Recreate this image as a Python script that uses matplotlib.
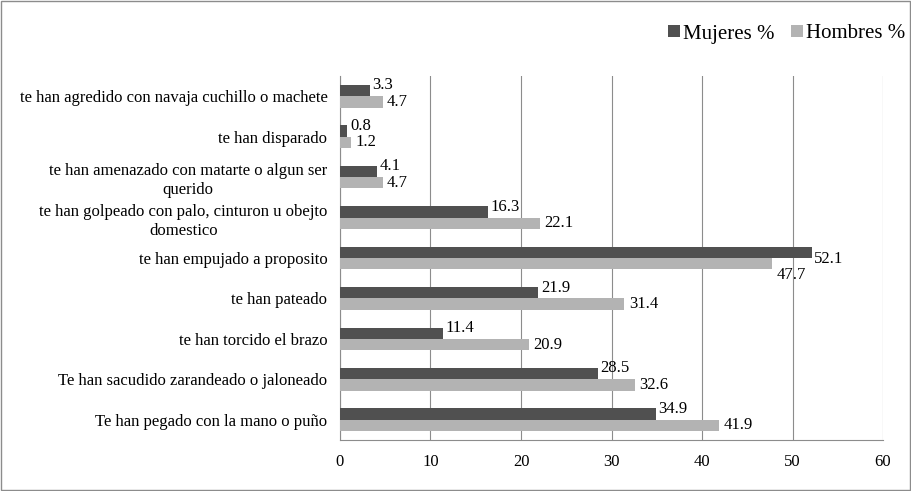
import numpy as np
import matplotlib
matplotlib.use("Agg")
import matplotlib.pyplot as plt
from matplotlib.patches import Rectangle

#%% datos
categorias = ["te han agredido con navaja cuchillo o machete",
              "te han disparado",
              "te han amenazado con matarte o algun ser\nquerido",
              "te han golpeado con palo, cinturon u obejto\ndomestico",
              "te han empujado a proposito",
              "te han pateado",
              "te han torcido el brazo",
              "Te han sacudido zarandeado o jaloneado",
              "Te han pegado con la mano o puño"]
mujeres = [3.3, 0.8, 4.1, 16.3, 52.1, 21.9, 11.4, 28.5, 34.9]
hombres = [4.7, 1.2, 4.7, 22.1, 47.7, 31.4, 20.9, 32.6, 41.9]
ticks_x = [0, 10, 20, 30, 40, 50, 60]

#%% figura
plt.rcParams['font.family'] = ['Liberation Serif', 'DejaVu Serif']
col_m = '#505050'
col_h = '#b3b3b3'
gris = '#8c8c8c'
fs = 12

fig = plt.figure(figsize=(9.12, 4.91), dpi=100)
ax = fig.add_axes([340/912, 1-440/491, (883-340)/912, (440-76)/491])

y = np.arange(len(categorias))
h = 0.28
ax.barh(y - h/2, mujeres, height=h, color=col_m, label='Mujeres %', zorder=3)
ax.barh(y + h/2, hombres, height=h, color=col_h, label='Hombres %', zorder=3)

# etiquetas de valores (como excel, se corren si chocan)
for i in range(len(categorias)):
    if mujeres[i] > hombres[i]:
        ym, yh = y[i] + 0.02, y[i] + h/2 + 0.27
    else:
        ym, yh = y[i] - h/2 - 0.13, y[i] + h/2
    ax.text(mujeres[i] + 0.3, ym, f"{mujeres[i]:.1f}", fontsize=fs,
            va='center', ha='left', zorder=4)
    ax.text(hombres[i] + 0.5, yh, f"{hombres[i]:.1f}", fontsize=fs,
            va='center', ha='left', zorder=4)

ax.set_xlim(0, 60)
ax.set_ylim(len(categorias) - 0.5, -0.5)
ax.set_xticks(ticks_x)
ax.set_xticklabels([str(t) for t in ticks_x], fontsize=fs)
ax.set_yticks(y)
ax.set_yticklabels(categorias, fontsize=fs, linespacing=1.25, multialignment='center')
ax.tick_params(axis='x', length=0, pad=10)
ax.tick_params(axis='y', length=0, pad=9)
ax.xaxis.grid(True, color=gris, linewidth=0.8, zorder=0)
for s in ['top', 'right']:
    ax.spines[s].set_visible(False)
for s in ['left', 'bottom']:
    ax.spines[s].set_color(gris)
    ax.spines[s].set_linewidth(0.8)

ax.legend(loc='center right', bbox_to_anchor=(905/912, 1-34/491), bbox_transform=fig.transFigure,
          ncol=2, frameon=False, fontsize=15, handlelength=0.55, handleheight=0.55,
          handletextpad=0.15, columnspacing=0.8, borderaxespad=0, borderpad=0)

fig.patches.append(Rectangle((0.001, 0.002), 0.997, 0.996, transform=fig.transFigure,
                             fill=False, edgecolor=gris, linewidth=1.0))

plt.savefig('out.png', dpi=100)
